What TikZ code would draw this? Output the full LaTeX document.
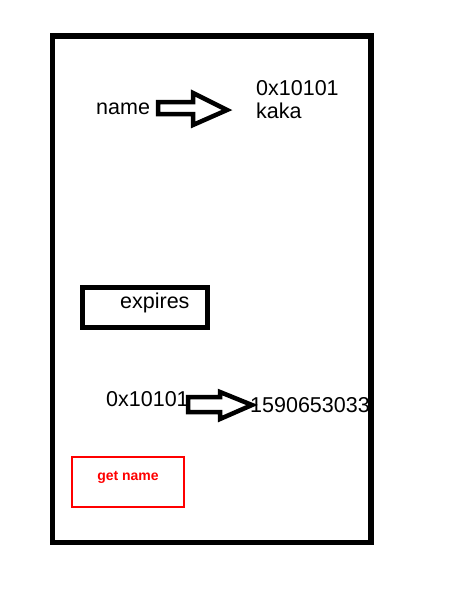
\documentclass[tikz,border=0pt]{standalone}
\usepackage{fontspec}
\setmainfont{Liberation Sans}
\begin{document}
\begin{tikzpicture}[x=1pt,y=-1pt,line join=miter,
  lbl/.style={anchor=base west,inner sep=0pt,font=\fontsize{21.5}{25}\selectfont}]
\useasboundingbox (0,0) rectangle (474,589);
\draw[line width=5.5] (52.5,36) rectangle (371,542.5);
\node[lbl] (name) at (96,114) {name};
\node[lbl] (addr) at (256,95) {0x10101};
\node[lbl] (val) at (256,118) {kaka};
\draw[line width=4.5] (158,102)--(193,102)--(193,93)--(227,110)--(193,125)--(193,114)--(158,114)--cycle;
\draw[line width=5] (82.5,287.5) rectangle (207.5,327.5);
\node[lbl] (expires) at (120,308) {expires};
\node[lbl] (key) at (106,406) {0x10101};
\node[lbl] (stamp) at (250,412) {1590653033};
\draw[line width=4.5] (188,397)--(220,397)--(220,392)--(252,405)--(220,419)--(220,412)--(188,412)--cycle;
\draw[red,line width=2] (72,457) rectangle (184,507);
\node[anchor=base,inner sep=0pt,red,font=\fontsize{14}{16}\selectfont\bfseries] (get) at (128,480) {get name};
\end{tikzpicture}
\end{document}
